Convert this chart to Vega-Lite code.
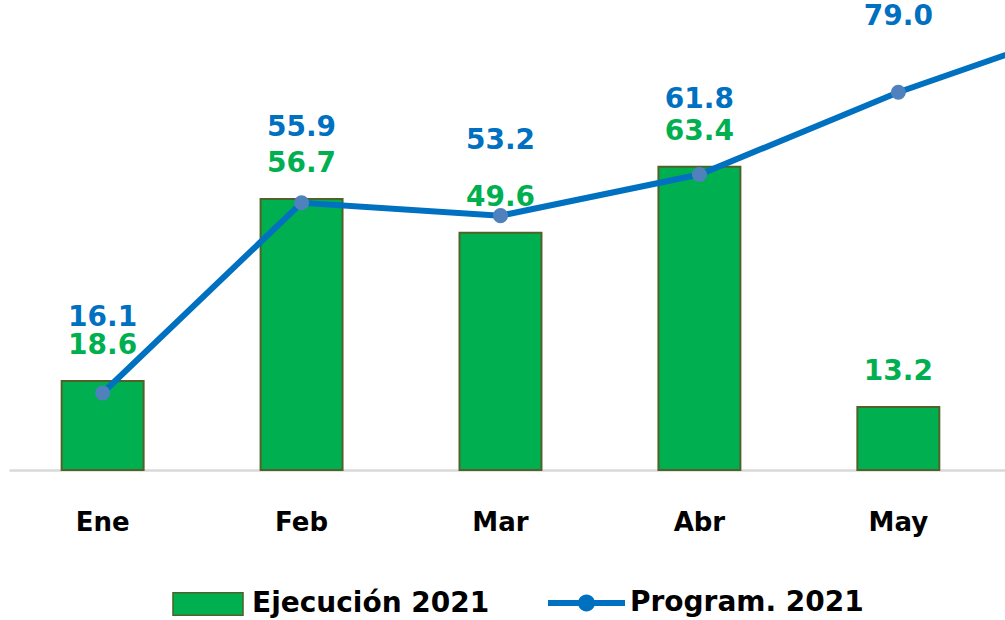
{
  "$schema": "https://vega.github.io/schema/vega-lite/v6.json",
  "width": 1005,
  "height": 470,
  "autosize": "none",
  "padding": {"left": 0, "top": 0, "right": 0, "bottom": 150},
  "background": "white",
  "data": {
    "values": [
      {"mes": "Ene", "ejec": 18.6, "prog": 16.1},
      {"mes": "Feb", "ejec": 56.7, "prog": 55.9},
      {"mes": "Mar", "ejec": 49.6, "prog": 53.2},
      {"mes": "Abr", "ejec": 63.4, "prog": 61.8},
      {"mes": "May", "ejec": 13.2, "prog": 79.0},
      {"mes": "Jun", "ejec": null, "prog": 93.5}
    ]
  },
  "encoding": {
    "x": {
      "field": "mes",
      "type": "nominal",
      "sort": null,
      "scale": {"range": [9, 1190.9], "paddingInner": 0.588, "paddingOuter": 0.2647},
      "axis": {
        "title": null,
        "labelAngle": 0,
        "ticks": false,
        "domainColor": "#D9D9D9",
        "domainWidth": 2.5,
        "labelFont": "DejaVu Sans",
        "labelFontWeight": "bold",
        "labelFontSize": 26,
        "labelColor": "#000000",
        "labelBaseline": "alphabetic",
        "labelPadding": 60,
        "labelExpr": "datum.value === 'Jun' ? '' : datum.value"
      }
    }
  },
  "layer": [
    {
      "mark": {"type": "bar", "stroke": "#4F6228", "strokeWidth": 2},
      "encoding": {
        "y": {"field": "ejec", "type": "quantitative", "scale": {"domain": [0, 98.3], "nice": false}, "axis": null},
        "fill": {
          "datum": "Ejecución 2021",
          "scale": {"domain": ["Ejecución 2021"], "range": ["#00B050"]},
          "legend": {
            "orient": "none",
            "legendX": 168.5,
            "legendY": 564.5,
            "direction": "horizontal",
            "title": null,
            "labelFont": "DejaVu Sans",
            "labelFontWeight": "bold",
            "labelFontSize": 28,
            "labelColor": "#000000",
            "labelLimit": 500,
            "symbolType": "M-0.91,-0.29H0.91V0.29H-0.91Z",
            "symbolSize": 5929,
            "symbolStrokeColor": "#4F6228",
            "symbolStrokeWidth": 1.5,
            "symbolOpacity": 1,
            "labelOffset": 4.5
          }
        }
      }
    },
    {
      "mark": {"type": "line", "strokeWidth": 6},
      "encoding": {
        "y": {"field": "prog", "type": "quantitative"},
        "stroke": {
          "datum": "Program. 2021",
          "scale": {"domain": ["Program. 2021"], "range": ["#0070C0"]},
          "legend": {
            "orient": "none",
            "legendX": 548,
            "legendY": 564.5,
            "direction": "horizontal",
            "title": null,
            "labelFont": "DejaVu Sans",
            "labelFontWeight": "bold",
            "labelFontSize": 28,
            "labelColor": "#000000",
            "labelLimit": 500,
            "symbolType": "M-1,-0.08H1V0.08H-1Z M-0.22,0A0.22,0.22 0 1,1 0.22,0A0.22,0.22 0 1,1 -0.22,0Z",
            "symbolSize": 5929,
            "symbolFillColor": "#0070C0",
            "symbolStrokeWidth": 0,
            "symbolOpacity": 1,
            "labelOffset": 5
          }
        }
      }
    },
    {
      "mark": {"type": "point", "shape": "circle", "filled": true, "size": 227, "color": "#4F81BD", "opacity": 1},
      "encoding": {
        "y": {"field": "prog", "type": "quantitative"}
      }
    },
    {
      "mark": {"type": "text", "dy": -35, "font": "DejaVu Sans", "fontWeight": "bold", "fontSize": 28, "color": "#00B050", "baseline": "middle"},
      "transform": [{"filter": "datum.ejec != null"}],
      "encoding": {
        "y": {"field": "ejec", "type": "quantitative"},
        "text": {"field": "ejec", "type": "quantitative", "format": ".1f"}
      }
    },
    {
      "mark": {"type": "text", "dy": -75, "font": "DejaVu Sans", "fontWeight": "bold", "fontSize": 28, "color": "#0070C0", "baseline": "middle"},
      "transform": [{"filter": "datum.mes !== 'Jun'"}],
      "encoding": {
        "y": {"field": "prog", "type": "quantitative"},
        "text": {"field": "prog", "type": "quantitative", "format": ".1f"}
      }
    }
  ],
  "resolve": {"scale": {"y": "shared"}},
  "config": {
    "view": {"stroke": null},
    "axis": {"grid": false}
  }
}
